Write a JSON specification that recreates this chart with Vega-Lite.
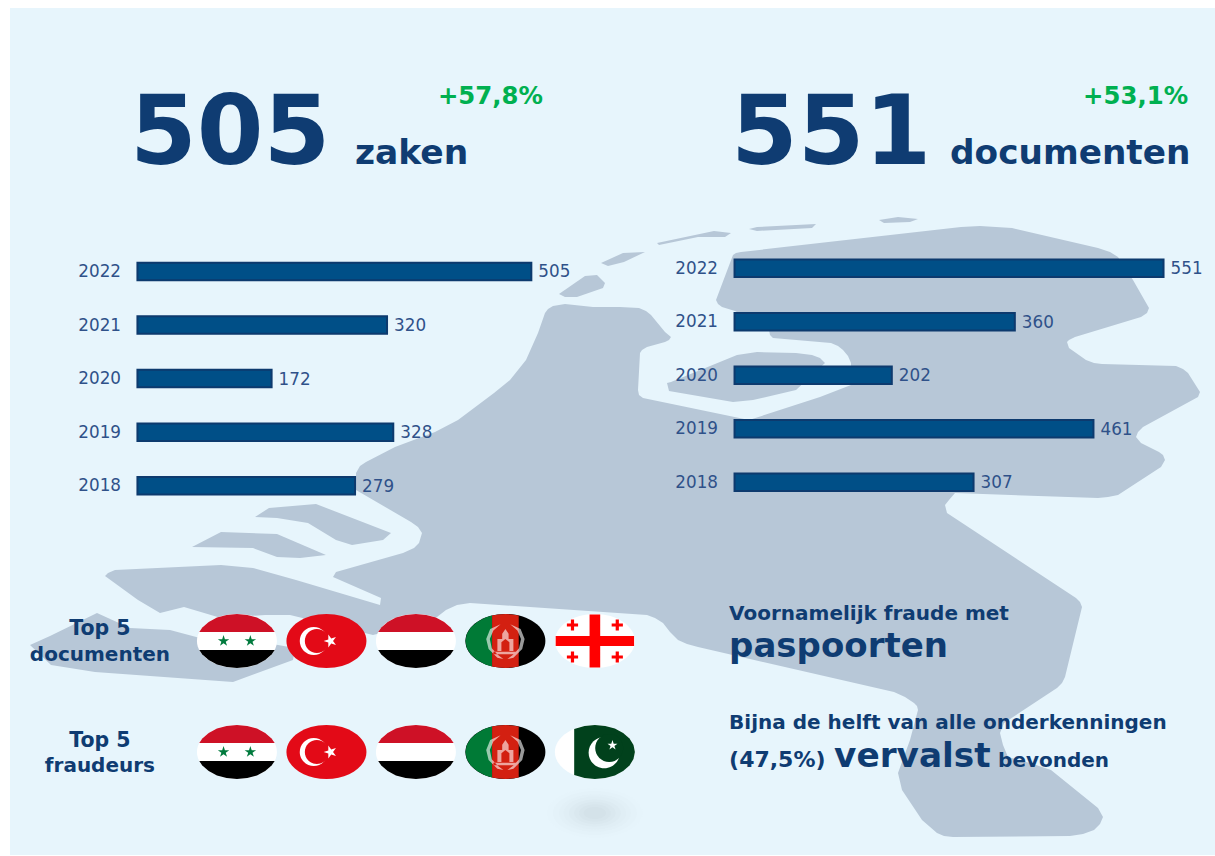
{"$schema":"https://vega.github.io/schema/vega-lite/v6.json","width":1215,"height":856,"padding":0,"autosize":{"type":"none"},"background":"#ffffff","config":{"view":{"stroke":null},"text":{"font":"DejaVu Sans"}},"resolve":{"scale":{"x":"independent","y":"independent","color":"independent","shape":"independent"},"axis":{"x":"independent","y":"independent"}},
"layer":[
{"data":{"values":{"type":"FeatureCollection","features":[
{"type":"Feature","properties":{"deel":"paneel"},"geometry":{"type":"Polygon","coordinates":[[[10,8],[1215,8],[1215,855],[10,855],[10,8]]]}},
{"type":"Feature","properties":{"deel":"land"},"geometry":{"type":"Polygon","coordinates":[[[545,313],[548,309],[553,306],[565,304],[593,307],[620,307],[639,308],[646,311],[651,315],[665,332],[671,337],[669,340],[665,342],[647,347],[642,350],[640,353],[638,390],[639,395],[643,398],[749,420],[820,397],[851,385],[851,363],[848,356],[843,350],[838,346],[831,343],[773,338],[770,335],[769,330],[735,311],[722,307],[718,304],[716,300],[733,255],[736,253],[741,252],[961,227],[980,226],[1012,228],[1098,248],[1110,252],[1118,257],[1133,280],[1149,308],[1147,313],[1141,317],[1075,337],[1069,340],[1067,342],[1069,348],[1086,360],[1094,363],[1102,364],[1176,366],[1183,369],[1188,373],[1200,392],[1198,397],[1143,427],[1138,432],[1136,437],[1141,443],[1159,452],[1163,455],[1165,460],[1161,467],[1118,495],[1108,497],[1098,498],[955,493],[949,500],[945,505],[947,513],[1076,598],[1080,602],[1082,607],[1065,677],[1062,683],[1057,688],[1004,723],[1000,733],[1003,745],[1008,757],[1030,763],[1051,770],[1098,808],[1103,817],[1100,824],[1094,830],[1083,834],[1070,836],[953,837],[944,836],[937,833],[922,820],[902,790],[898,773],[910,740],[918,710],[917,706],[914,703],[905,697],[894,692],[698,647],[687,644],[678,640],[670,632],[663,623],[655,618],[647,615],[470,603],[457,605],[446,610],[437,617],[400,628],[373,635],[290,615],[265,615],[221,618],[184,607],[160,613],[138,600],[105,576],[108,573],[115,570],[221,565],[253,568],[296,580],[380,605],[381,598],[333,577],[336,572],[403,553],[414,548],[419,543],[422,533],[418,527],[411,522],[356,490],[356,473],[360,466],[366,462],[395,447],[435,432],[458,420],[494,393],[510,380],[526,360],[538,333],[545,313]]]}},
{"type":"Feature","properties":{"deel":"land"},"geometry":{"type":"Polygon","coordinates":[[[30,645],[50,636],[97,613],[130,628],[170,630],[200,638],[250,640],[295,648],[293,660],[233,682],[95,672],[51,665],[30,645]]]}},
{"type":"Feature","properties":{"deel":"land"},"geometry":{"type":"Polygon","coordinates":[[[667,383],[671,382],[737,355],[757,352],[796,353],[812,355],[820,358],[825,363],[796,390],[753,400],[733,402],[669,391],[667,383]]]}},
{"type":"Feature","properties":{"deel":"land"},"geometry":{"type":"Polygon","coordinates":[[[601,263],[623,253],[645,252],[624,262],[608,266],[601,263]]]}},
{"type":"Feature","properties":{"deel":"land"},"geometry":{"type":"Polygon","coordinates":[[[657,243],[714,231],[731,233],[725,237],[698,237],[659,245],[657,243]]]}},
{"type":"Feature","properties":{"deel":"land"},"geometry":{"type":"Polygon","coordinates":[[[749,229],[757,227],[816,224],[812,228],[757,231],[749,229]]]}},
{"type":"Feature","properties":{"deel":"land"},"geometry":{"type":"Polygon","coordinates":[[[879,220],[898,217],[918,219],[910,222],[884,223],[879,220]]]}},
{"type":"Feature","properties":{"deel":"land"},"geometry":{"type":"Polygon","coordinates":[[[559,294],[585,276],[597,275],[605,283],[603,288],[577,297],[565,297],[559,294]]]}},
{"type":"Feature","properties":{"deel":"land"},"geometry":{"type":"Polygon","coordinates":[[[255,517],[269,508],[316,504],[391,533],[383,540],[352,545],[336,540],[308,523],[277,518],[255,517]]]}},
{"type":"Feature","properties":{"deel":"land"},"geometry":{"type":"Polygon","coordinates":[[[192,547],[221,532],[277,534],[326,555],[300,558],[277,557],[253,548],[192,547]]]}}
]},"format":{"type":"json","property":"features"}},
"projection":{"type":"identity","scale":1,"translate":[0,0]},
"mark":{"type":"geoshape","filled":true,"strokeWidth":0},
"encoding":{"color":{"field":"properties.deel","type":"nominal","legend":null,"scale":{"domain":["paneel","land"],"range":["#e7f5fc","#b7c7d7"]}}}},
{"data":{"values":[
{"lijst":"documenten","rij":1,"rang":1,"land":"Syrië","deel":"wit-ovaal"},{"lijst":"documenten","rij":1,"rang":1,"land":"Syrië","deel":"kap-rood"},{"lijst":"documenten","rij":1,"rang":1,"land":"Syrië","deel":"kap-zwart"},{"lijst":"documenten","rij":1,"rang":1,"land":"Syrië","deel":"sy-sterren"},
{"lijst":"documenten","rij":1,"rang":2,"land":"Turkije","deel":"rood-ovaal"},{"lijst":"documenten","rij":1,"rang":2,"land":"Turkije","deel":"tr-maan"},{"lijst":"documenten","rij":1,"rang":2,"land":"Turkije","deel":"tr-uitsnede"},{"lijst":"documenten","rij":1,"rang":2,"land":"Turkije","deel":"tr-ster"},
{"lijst":"documenten","rij":1,"rang":3,"land":"Jemen","deel":"wit-ovaal"},{"lijst":"documenten","rij":1,"rang":3,"land":"Jemen","deel":"kap-rood"},{"lijst":"documenten","rij":1,"rang":3,"land":"Jemen","deel":"kap-zwart"},
{"lijst":"documenten","rij":1,"rang":4,"land":"Afghanistan","deel":"zwart-ovaal"},{"lijst":"documenten","rij":1,"rang":4,"land":"Afghanistan","deel":"af-groen"},{"lijst":"documenten","rij":1,"rang":4,"land":"Afghanistan","deel":"af-rood"},{"lijst":"documenten","rij":1,"rang":4,"land":"Afghanistan","deel":"af-embleem"},{"lijst":"documenten","rij":1,"rang":4,"land":"Afghanistan","deel":"af-poort"},
{"lijst":"documenten","rij":1,"rang":5,"land":"Georgië","deel":"wit-ovaal"},{"lijst":"documenten","rij":1,"rang":5,"land":"Georgië","deel":"ge-kruisen"},
{"lijst":"fraudeurs","rij":2,"rang":1,"land":"Syrië","deel":"wit-ovaal"},{"lijst":"fraudeurs","rij":2,"rang":1,"land":"Syrië","deel":"kap-rood"},{"lijst":"fraudeurs","rij":2,"rang":1,"land":"Syrië","deel":"kap-zwart"},{"lijst":"fraudeurs","rij":2,"rang":1,"land":"Syrië","deel":"sy-sterren"},
{"lijst":"fraudeurs","rij":2,"rang":2,"land":"Turkije","deel":"rood-ovaal"},{"lijst":"fraudeurs","rij":2,"rang":2,"land":"Turkije","deel":"tr-maan"},{"lijst":"fraudeurs","rij":2,"rang":2,"land":"Turkije","deel":"tr-uitsnede"},{"lijst":"fraudeurs","rij":2,"rang":2,"land":"Turkije","deel":"tr-ster"},
{"lijst":"fraudeurs","rij":2,"rang":3,"land":"Jemen","deel":"wit-ovaal"},{"lijst":"fraudeurs","rij":2,"rang":3,"land":"Jemen","deel":"kap-rood"},{"lijst":"fraudeurs","rij":2,"rang":3,"land":"Jemen","deel":"kap-zwart"},
{"lijst":"fraudeurs","rij":2,"rang":4,"land":"Afghanistan","deel":"zwart-ovaal"},{"lijst":"fraudeurs","rij":2,"rang":4,"land":"Afghanistan","deel":"af-groen"},{"lijst":"fraudeurs","rij":2,"rang":4,"land":"Afghanistan","deel":"af-rood"},{"lijst":"fraudeurs","rij":2,"rang":4,"land":"Afghanistan","deel":"af-embleem"},{"lijst":"fraudeurs","rij":2,"rang":4,"land":"Afghanistan","deel":"af-poort"},
{"lijst":"fraudeurs","rij":2,"rang":5,"land":"Pakistan","deel":"wit-ovaal"},{"lijst":"fraudeurs","rij":2,"rang":5,"land":"Pakistan","deel":"pk-groen"},{"lijst":"fraudeurs","rij":2,"rang":5,"land":"Pakistan","deel":"pk-maan"},{"lijst":"fraudeurs","rij":2,"rang":5,"land":"Pakistan","deel":"pk-uitsnede"},{"lijst":"fraudeurs","rij":2,"rang":5,"land":"Pakistan","deel":"pk-ster"},
{"lijst":"fraudeurs","rij":2,"rang":5,"land":"schaduw","deel":"schaduw-1"},{"lijst":"fraudeurs","rij":2,"rang":5,"land":"schaduw","deel":"schaduw-2"},{"lijst":"fraudeurs","rij":2,"rang":5,"land":"schaduw","deel":"schaduw-3"},{"lijst":"fraudeurs","rij":2,"rang":5,"land":"schaduw","deel":"schaduw-4"},{"lijst":"fraudeurs","rij":2,"rang":5,"land":"schaduw","deel":"schaduw-5"},{"lijst":"fraudeurs","rij":2,"rang":5,"land":"schaduw","deel":"schaduw-6"},{"lijst":"fraudeurs","rij":2,"rang":5,"land":"schaduw","deel":"schaduw-7"},{"lijst":"fraudeurs","rij":2,"rang":5,"land":"schaduw","deel":"schaduw-8"}
]},
"mark":{"type":"point","filled":true,"size":6400,"opacity":1,"strokeWidth":0},
"encoding":{
"x":{"field":"rang","type":"quantitative","axis":null,"scale":{"domain":[-1.648,11.93],"range":[0,1215],"nice":false,"zero":false}},
"y":{"field":"rij","type":"quantitative","axis":null,"scale":{"domain":[-4.775,2.937],"range":[0,856],"nice":false,"zero":false}},
"color":{"field":"deel","type":"nominal","legend":null,"scale":{"domain":["wit-ovaal","rood-ovaal","zwart-ovaal","kap-rood","kap-zwart","sy-sterren","tr-maan","tr-uitsnede","tr-ster","af-groen","af-rood","af-embleem","af-poort","ge-kruisen","pk-groen","pk-maan","pk-uitsnede","pk-ster","schaduw-1","schaduw-2","schaduw-3","schaduw-4","schaduw-5","schaduw-6","schaduw-7","schaduw-8"],
"range":["#ffffff","#e30a17","#000000","#ce1126","#000000","#007a3d","#ffffff","#e30a17","#ffffff","#007a36","#d32011","rgba(255,255,255,0.6)","#d32011","#ff0000","#01411c","#ffffff","#01411c","#ffffff","rgba(130,130,130,0.012)","rgba(130,130,130,0.015)","rgba(130,130,130,0.02)","rgba(130,130,130,0.02)","rgba(130,130,130,0.022)","rgba(130,130,130,0.022)","rgba(130,130,130,0.022)","rgba(130,130,130,0.022)"]}},
"shape":{"field":"deel","type":"nominal","legend":null,"scale":{"domain":["wit-ovaal","rood-ovaal","zwart-ovaal","kap-rood","kap-zwart","sy-sterren","tr-maan","tr-uitsnede","tr-ster","af-groen","af-rood","af-embleem","af-poort","ge-kruisen","pk-groen","pk-maan","pk-uitsnede","pk-ster","schaduw-1","schaduw-2","schaduw-3","schaduw-4","schaduw-5","schaduw-6","schaduw-7","schaduw-8"],
"range":[
"M-1 0 C-1 -.373 -.552 -.675 0 -.675 C.552 -.675 1 -.373 1 0 C1 .373 .552 .675 0 .675 C-.552 .675 -1 .373 -1 0 Z",
"M-1 0.001 C-1 -.373 -.552 -.675 0 -.675 C.552 -.675 1 -.373 1 0 C1 .373 .552 .675 0 .675 C-.552 .675 -1 .373 -1 0.001 Z",
"M-1 0.002 C-1 -.373 -.552 -.675 0 -.675 C.552 -.675 1 -.373 1 0 C1 .373 .552 .675 0 .675 C-.552 .675 -1 .373 -1 0.002 Z",
"M-.943 -.225 L-.866 -.338 L-.707 -.477 L-.5 -.585 L-.259 -.652 L0 -.675 L.259 -.652 L.5 -.585 L.707 -.477 L.866 -.338 L.943 -.225 Z",
"M-.943 .225 L-.866 .338 L-.707 .477 L-.5 .585 L-.259 .652 L0 .675 L.259 .652 L.5 .585 L.707 .477 L.866 .338 L.943 .225 Z",
"M-.335 -.15 L-.301 -.046 L-.192 -.046 L-.281 .018 L-.247 .121 L-.335 .057 L-.423 .121 L-.389 .018 L-.478 -.046 L-.369 -.046 Z M.335 -.15 L.369 -.046 L.478 -.046 L.389 .018 L.423 .121 L.335 .057 L.247 .121 L.281 .018 L.192 -.046 L.301 -.046 Z",
"M-.667 0 C-.667 -.193 -.51 -.35 -.317 -.35 C-.124 -.35 .033 -.193 .033 0 C.033 .193 -.124 .35 -.317 .35 C-.51 .35 -.667 .193 -.667 0 Z",
"M-.54 0 C-.54 -.166 -.406 -.3 -.24 -.3 C-.074 -.3 .06 -.166 .06 0 C.06 .166 -.074 .3 -.24 .3 C-.406 .3 -.54 .166 -.54 0 Z",
"M-.07 0 L.047 -.038 L.047 -.162 L.12 -.062 L.238 -.1 L.165 0 L.238 .1 L.12 .062 L.047 .162 L.047 .038 Z",
"M-.333 -.636 L-.5 -.585 L-.707 -.477 L-.866 -.338 L-.966 -.175 L-1 0 L-.966 .175 L-.866 .338 L-.707 .477 L-.5 .585 L-.333 .636 Z",
"M-.333 -.636 L-.167 -.665 L0 -.675 L.167 -.665 L.333 -.636 L.333 .636 L.167 .665 L0 .675 L-.167 .665 L-.333 .636 Z",
"M-.2 .25 L-.2 -.05 L-.08 -.05 L-.08 -.18 L0 -.3 L.08 -.18 L.08 -.05 L.2 -.05 L.2 .25 Z M-.3 .27 L.3 .27 L.3 .33 L-.3 .33 Z M-.12 -.42 L-.38 -.3 L-.48 -.05 L-.42 .2 L-.2 .42 L-.05 .45 L-.2 .34 L-.34 .18 L-.39 -.05 L-.3 -.26 Z M.12 -.42 L.38 -.3 L.48 -.05 L.42 .2 L.2 .42 L.05 .45 L.2 .34 L.34 .18 L.39 -.05 L.3 -.26 Z",
"M-.1 .25 L-.1 .03 L0 -.05 L.1 .03 L.1 .25 Z",
"M-.133 -.66 L.133 -.66 L.133 -.125 L.98 -.125 L.98 .125 L.133 .125 L.133 .66 L-.133 .66 L-.133 .125 L-.98 .125 L-.98 -.125 L-.133 -.125 Z M-.6 -.54 L-.52 -.54 L-.52 -.44 L-.42 -.44 L-.42 -.36 L-.52 -.36 L-.52 -.26 L-.6 -.26 L-.6 -.36 L-.7 -.36 L-.7 -.44 L-.6 -.44 Z M.52 -.54 L.6 -.54 L.6 -.44 L.7 -.44 L.7 -.36 L.6 -.36 L.6 -.26 L.52 -.26 L.52 -.36 L.42 -.36 L.42 -.44 L.52 -.44 Z M-.6 .26 L-.52 .26 L-.52 .36 L-.42 .36 L-.42 .44 L-.52 .44 L-.52 .54 L-.6 .54 L-.6 .44 L-.7 .44 L-.7 .36 L-.6 .36 Z M.52 .26 L.6 .26 L.6 .36 L.7 .36 L.7 .44 L.6 .44 L.6 .54 L.52 .54 L.52 .44 L.42 .44 L.42 .36 L.52 .36 Z",
"M-.517 -.578 L-.259 -.652 L0 -.675 L.259 -.652 L.5 -.585 L.707 -.477 L.866 -.338 L.966 -.175 L1 0 L.966 .175 L.866 .338 L.707 .477 L.5 .585 L.259 .652 L0 .675 L-.259 .652 L-.517 .578 Z",
"M-.157 .017 C-.157 -.198 .018 -.373 .233 -.373 C.448 -.373 .623 -.198 .623 .017 C.623 .232 .448 .407 .233 .407 C.018 .407 -.157 .232 -.157 .017 Z",
"M.008 -.1 C.008 -.293 .165 -.45 .358 -.45 C.551 -.45 .708 -.293 .708 -.1 C.708 .093 .551 .25 .358 .25 C.165 .25 .008 .093 .008 -.1 Z",
"M.44 -.297 L.47 -.207 L.564 -.207 L.488 -.15 L.517 -.06 L.44 -.116 L.363 -.06 L.392 -.15 L.316 -.207 L.41 -.207 Z",
"M-1.2 1.525 C-1.2 1.183 -.662 .905 0 .905 C.662 .905 1.2 1.183 1.2 1.525 C1.2 1.867 .662 2.145 0 2.145 C-.662 2.145 -1.2 1.867 -1.2 1.525 Z",
"M-1.05 1.525 C-1.05 1.221 -.58 .975 0 .975 C.58 .975 1.05 1.221 1.05 1.525 C1.05 1.829 .58 2.075 0 2.075 C-.58 2.075 -1.05 1.829 -1.05 1.525 Z",
"M-.9 1.525 C-.9 1.265 -.497 1.055 0 1.055 C.497 1.055 .9 1.265 .9 1.525 C.9 1.785 .497 1.995 0 1.995 C-.497 1.995 -.9 1.785 -.9 1.525 Z",
"M-.78 1.525 C-.78 1.299 -.431 1.115 0 1.115 C.431 1.115 .78 1.299 .78 1.525 C.78 1.751 .431 1.935 0 1.935 C-.431 1.935 -.78 1.751 -.78 1.525 Z",
"M-.65 1.525 C-.65 1.337 -.359 1.185 0 1.185 C.359 1.185 .65 1.337 .65 1.525 C.65 1.713 .359 1.865 0 1.865 C-.359 1.865 -.65 1.713 -.65 1.525 Z",
"M-.52 1.525 C-.52 1.37 -.287 1.245 0 1.245 C.287 1.245 .52 1.37 .52 1.525 C.52 1.68 .287 1.805 0 1.805 C-.287 1.805 -.52 1.68 -.52 1.525 Z",
"M-.4 1.525 C-.4 1.404 -.221 1.305 0 1.305 C.221 1.305 .4 1.404 .4 1.525 C.4 1.646 .221 1.745 0 1.745 C-.221 1.745 -.4 1.646 -.4 1.525 Z",
"M-.28 1.525 C-.28 1.442 -.155 1.375 0 1.375 C.155 1.375 .28 1.442 .28 1.525 C.28 1.608 .155 1.675 0 1.675 C-.155 1.675 -.28 1.608 -.28 1.525 Z"
]}}}},
{"layer":[
{"data":{"values":[{"jaar":2022,"zaken":505},{"jaar":2021,"zaken":320},{"jaar":2020,"zaken":172},{"jaar":2019,"zaken":328},{"jaar":2018,"zaken":279}]},
"layer":[
{"mark":{"type":"bar","orient":"horizontal","size":17.5,"fill":"#004f87","stroke":"#0d3a6e","strokeWidth":2},
"encoding":{"x":{"field":"zaken","type":"quantitative","axis":null,"scale":{"domain":[-176.2,1381.5],"range":[0,1215],"nice":false,"zero":false}},
"y":{"field":"jaar","type":"quantitative","scale":{"domain":[2011.181,2026.974],"range":[856,0],"nice":false,"zero":false},"axis":{"orient":"left","offset":-137.5,"zindex":1,"title":null,"domain":false,"ticks":false,"grid":false,"labelPadding":17,"values":[2018,2019,2020,2021,2022],"format":"d","labelFont":"DejaVu Sans","labelFontSize":16.8,"labelColor":"#2f5189"}}}},
{"mark":{"type":"text","align":"left","baseline":"middle","dx":7,"dy":1,"fontSize":16.8,"fill":"#2f5189"},
"encoding":{"x":{"field":"zaken","type":"quantitative"},"y":{"field":"jaar","type":"quantitative"},"text":{"field":"zaken","type":"nominal"}}}
]},
{"data":{"values":[{"tekst":"505"}]},"mark":{"type":"text","align":"left","baseline":"alphabetic","fontSize":96,"fontWeight":"bold","fill":"#0f3c72"},"encoding":{"x":{"datum":-9.6,"type":"quantitative"},"y":{"datum":2024.013,"type":"quantitative"},"text":{"field":"tekst"}}},
{"data":{"values":[{"tekst":"zaken"}]},"mark":{"type":"text","align":"left","baseline":"alphabetic","fontSize":34.5,"fontWeight":"bold","fill":"#0f3c72"},"encoding":{"x":{"datum":278.8,"type":"quantitative"},"y":{"datum":2024.013,"type":"quantitative"},"text":{"field":"tekst"}}},
{"data":{"values":[{"tekst":"+57,8%"}]},"mark":{"type":"text","align":"left","baseline":"alphabetic","fontSize":24.4,"fontWeight":"bold","fill":"#00b050"},"encoding":{"x":{"datum":385.2,"type":"quantitative"},"y":{"datum":2025.129,"type":"quantitative"},"text":{"field":"tekst"}}},
{"data":{"values":[{"tekst":"Top 5"}]},"mark":{"type":"text","align":"center","baseline":"alphabetic","fontSize":20.5,"fontWeight":"bold","fill":"#0f3c72"},"encoding":{"x":{"datum":-48.1,"type":"quantitative"},"y":{"datum":2015.221,"type":"quantitative"},"text":{"field":"tekst"}}},
{"data":{"values":[{"tekst":"documenten"}]},"mark":{"type":"text","align":"center","baseline":"alphabetic","fontSize":20,"fontWeight":"bold","fill":"#0f3c72"},"encoding":{"x":{"datum":-48.1,"type":"quantitative"},"y":{"datum":2014.723,"type":"quantitative"},"text":{"field":"tekst"}}},
{"data":{"values":[{"tekst":"Top 5"}]},"mark":{"type":"text","align":"center","baseline":"alphabetic","fontSize":20.5,"fontWeight":"bold","fill":"#0f3c72"},"encoding":{"x":{"datum":-48.1,"type":"quantitative"},"y":{"datum":2013.118,"type":"quantitative"},"text":{"field":"tekst"}}},
{"data":{"values":[{"tekst":"fraudeurs"}]},"mark":{"type":"text","align":"center","baseline":"alphabetic","fontSize":20,"fontWeight":"bold","fill":"#0f3c72"},"encoding":{"x":{"datum":-48.1,"type":"quantitative"},"y":{"datum":2012.657,"type":"quantitative"},"text":{"field":"tekst"}}}
]},
{"layer":[
{"data":{"values":[{"jaar":2022,"documenten":551},{"jaar":2021,"documenten":360},{"jaar":2020,"documenten":202},{"jaar":2019,"documenten":461},{"jaar":2018,"documenten":307}]},
"layer":[
{"mark":{"type":"bar","orient":"horizontal","size":17.5,"fill":"#004f87","stroke":"#0d3a6e","strokeWidth":2},
"encoding":{"x":{"field":"documenten","type":"quantitative","axis":null,"scale":{"domain":[-943.4,617.1],"range":[0,1215],"nice":false,"zero":false}},
"y":{"field":"jaar","type":"quantitative","scale":{"domain":[2011.114,2026.916],"range":[856,0],"nice":false,"zero":false},"axis":{"orient":"left","offset":-734.5,"zindex":1,"title":null,"domain":false,"ticks":false,"grid":false,"labelPadding":17,"values":[2018,2019,2020,2021,2022],"format":"d","labelFont":"DejaVu Sans","labelFontSize":16.8,"labelColor":"#2f5189"}}}},
{"mark":{"type":"text","align":"left","baseline":"middle","dx":7,"dy":1,"fontSize":16.8,"fill":"#2f5189"},
"encoding":{"x":{"field":"documenten","type":"quantitative"},"y":{"field":"jaar","type":"quantitative"},"text":{"field":"documenten","type":"nominal"}}}
]},
{"data":{"values":[{"tekst":"551"}]},"mark":{"type":"text","align":"left","baseline":"alphabetic","fontSize":96,"fontWeight":"bold","fill":"#0f3c72"},"encoding":{"x":{"datum":-4.6,"type":"quantitative"},"y":{"datum":2023.953,"type":"quantitative"},"text":{"field":"tekst"}}},
{"data":{"values":[{"tekst":"documenten"}]},"mark":{"type":"text","align":"left","baseline":"alphabetic","fontSize":34.3,"fontWeight":"bold","fill":"#0f3c72"},"encoding":{"x":{"datum":276.8,"type":"quantitative"},"y":{"datum":2023.953,"type":"quantitative"},"text":{"field":"tekst"}}},
{"data":{"values":[{"tekst":"+53,1%"}]},"mark":{"type":"text","align":"left","baseline":"alphabetic","fontSize":24.4,"fontWeight":"bold","fill":"#00b050"},"encoding":{"x":{"datum":447.6,"type":"quantitative"},"y":{"datum":2025.07,"type":"quantitative"},"text":{"field":"tekst"}}},
{"data":{"values":[{"tekst":"Voornamelijk fraude met"}]},"mark":{"type":"text","align":"left","baseline":"alphabetic","fontSize":20,"fontWeight":"bold","fill":"#0f3c72"},"encoding":{"x":{"datum":-7,"type":"quantitative"},"y":{"datum":2015.42,"type":"quantitative"},"text":{"field":"tekst"}}},
{"data":{"values":[{"tekst":"paspoorten"}]},"mark":{"type":"text","align":"left","baseline":"alphabetic","fontSize":34,"fontWeight":"bold","fill":"#0f3c72"},"encoding":{"x":{"datum":-7,"type":"quantitative"},"y":{"datum":2014.73,"type":"quantitative"},"text":{"field":"tekst"}}},
{"data":{"values":[{"tekst":"Bijna de helft van alle onderkenningen"}]},"mark":{"type":"text","align":"left","baseline":"alphabetic","fontSize":20,"fontWeight":"bold","fill":"#0f3c72"},"encoding":{"x":{"datum":-7,"type":"quantitative"},"y":{"datum":2013.4,"type":"quantitative"},"text":{"field":"tekst"}}},
{"data":{"values":[{"tekst":"(47,5%)"}]},"mark":{"type":"text","align":"left","baseline":"alphabetic","fontSize":22,"fontWeight":"bold","fill":"#0f3c72"},"encoding":{"x":{"datum":-7,"type":"quantitative"},"y":{"datum":2012.69,"type":"quantitative"},"text":{"field":"tekst"}}},
{"data":{"values":[{"tekst":"vervalst"}]},"mark":{"type":"text","align":"left","baseline":"alphabetic","fontSize":34.3,"fontWeight":"bold","fill":"#0f3c72"},"encoding":{"x":{"datum":127.8,"type":"quantitative"},"y":{"datum":2012.69,"type":"quantitative"},"text":{"field":"tekst"}}},
{"data":{"values":[{"tekst":"bevonden"}]},"mark":{"type":"text","align":"left","baseline":"alphabetic","fontSize":20,"fontWeight":"bold","fill":"#0f3c72"},"encoding":{"x":{"datum":338.5,"type":"quantitative"},"y":{"datum":2012.69,"type":"quantitative"},"text":{"field":"tekst"}}}
]}
]}
